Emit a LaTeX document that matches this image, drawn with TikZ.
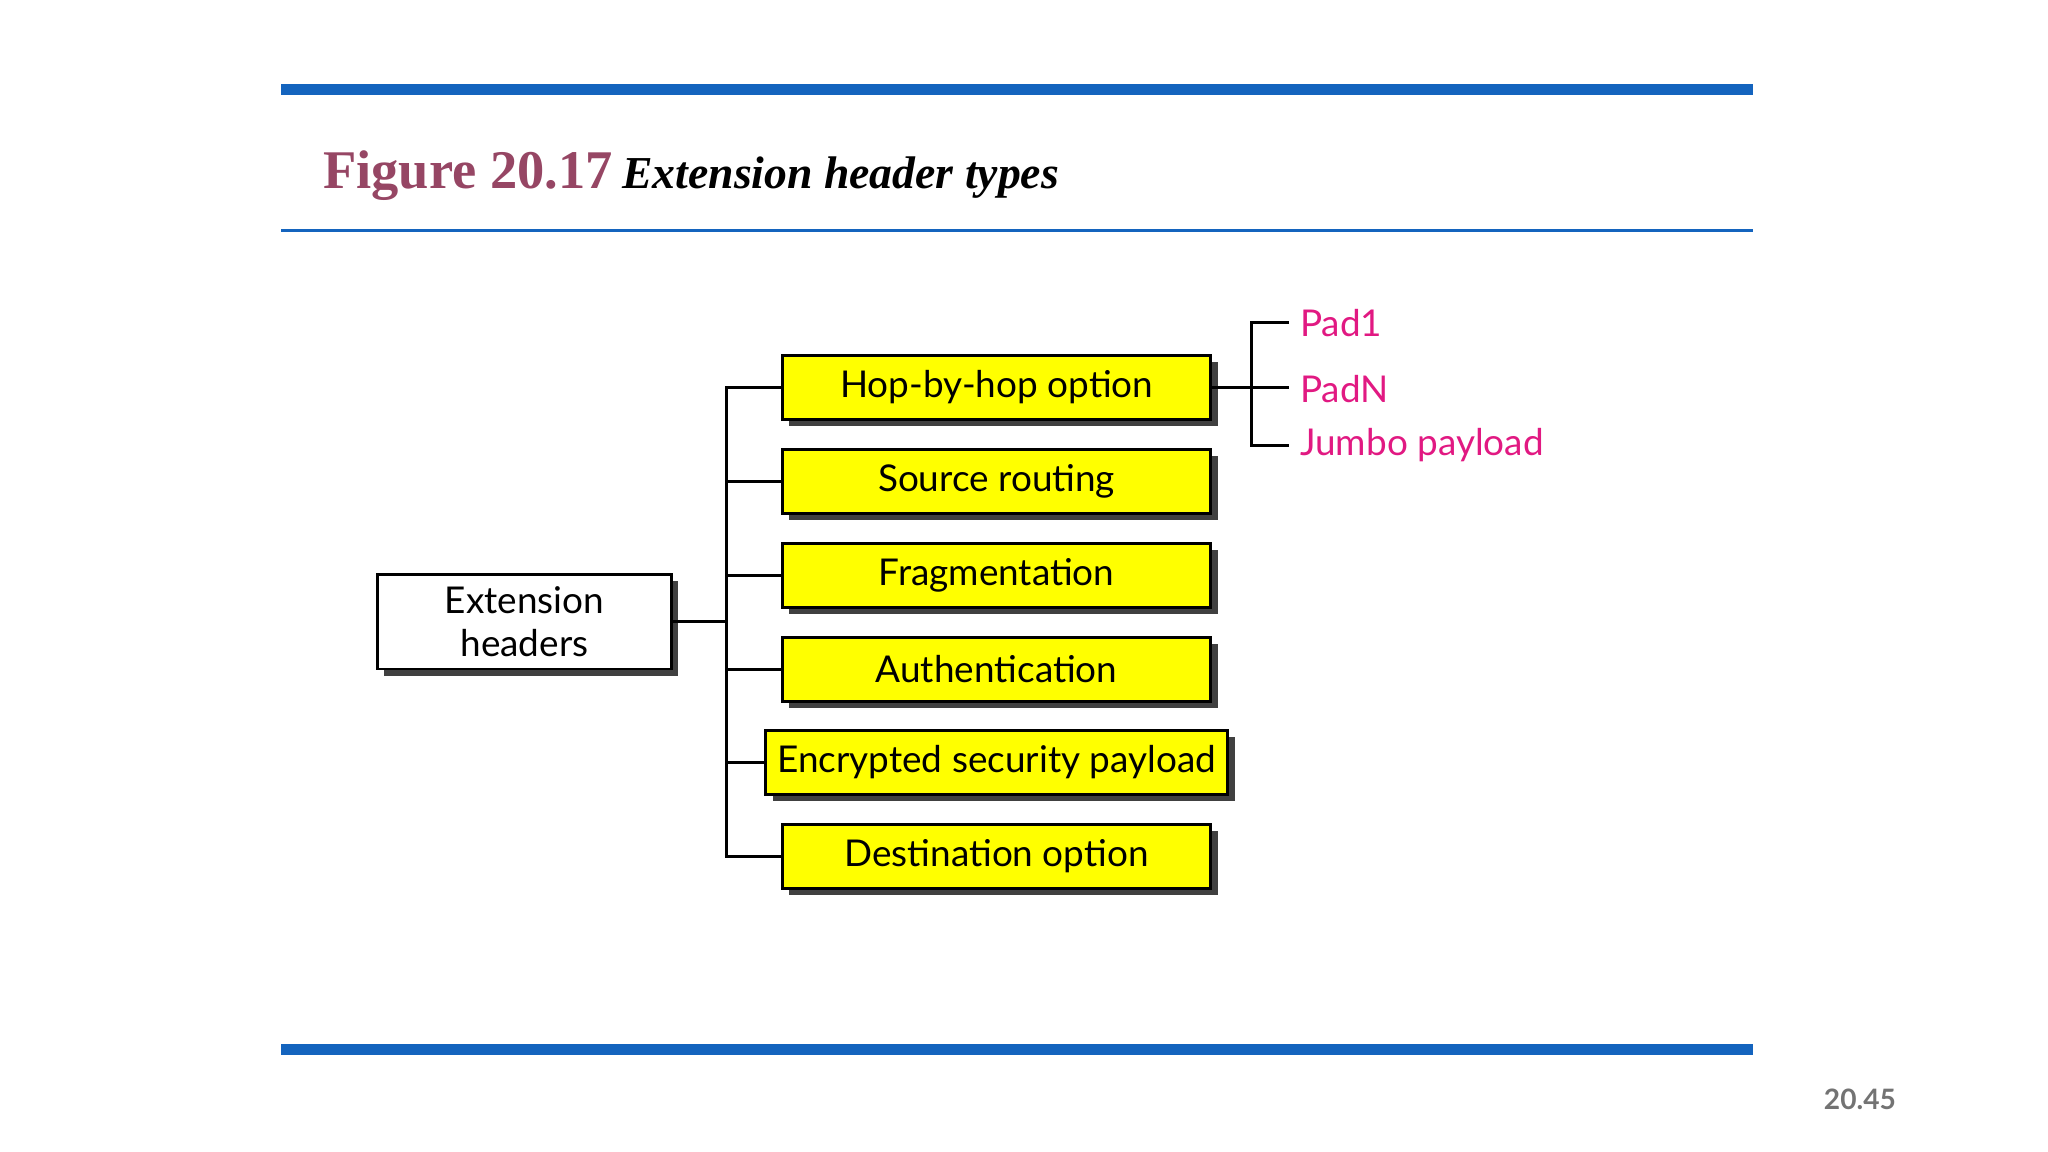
\documentclass[tikz,border=0pt]{standalone}
\usepackage{fontspec}
\setmainfont{Liberation Serif}
\setsansfont{Lato}
\definecolor{barblue}{RGB}{20,100,190}
\definecolor{titlered}{RGB}{150,70,100}
\definecolor{padpink}{RGB}{225,25,130}
\definecolor{boxyellow}{RGB}{255,255,0}
\tikzset{
  ybox/.style={draw=black, thick, fill=boxyellow, minimum width=328*0.013061cm, minimum height=49*0.013061cm, font=\sffamily\fontsize{10.5}{12}\selectfont, drop shadow={shadow xshift=0.07cm, shadow yshift=-0.07cm, fill=black!75, opacity=1}},
  wbox/.style={ybox, fill=white, minimum width=225*0.013061cm, minimum height=72*0.013061cm, align=center, font=\sffamily\fontsize{10.5}{12.5}\selectfont},
  link/.style={thick, black},
  pad/.style={text=padpink, font=\sffamily\fontsize{10.5}{12}\selectfont, anchor=west, inner sep=0pt}
}
\usetikzlibrary{shadows}
\begin{document}
\begin{tikzpicture}[x=0.013061cm, y=-0.013061cm]
\useasboundingbox (0,0) rectangle (1568,882);
\fill[barblue] (215,64) rectangle (1342,73);
\fill[barblue] (215,799) rectangle (1342,808);
\fill[barblue] (215,175) rectangle (1342,177.5);
\node[anchor=base west, inner sep=0pt, text=titlered, font=\bfseries\fontsize{15.5}{18}\selectfont] (fig) at (247,144) {Figure 20.17};
\node[anchor=base west, inner sep=0pt, font=\bfseries\itshape\fontsize{13}{16}\selectfont] (cap) at (476,144) {Extension header types};
\node[anchor=center, inner sep=0pt, text=black!55, font=\sffamily\bfseries\fontsize{8}{10}\selectfont] (pg) at (1424,842) {20.45};

\node[wbox] (ext) at (401.5,476) {Extension\\headers};
\node[ybox] (b1) at (763,296.5) {Hop-by-hop option};
\node[ybox] (b2) at (763,368.5) {Source routing};
\node[ybox] (b3) at (763,440.5) {Fragmentation};
\node[ybox] (b4) at (763,512.5) {Authentication};
\node[ybox] (b5) at (763,583.5) {Encrypted security payload};
\node[ybox] (b6) at (763,655.5) {Destination option};

\coordinate (j) at (556,476);
\draw[link] (ext.east) -- (j);
\draw[link] (b1.west) -| (556,655.5) -- (b6.west);
\foreach \b in {b2,b3,b4,b5} \draw[link] (\b.west) -- (556,0 |- \b.west);

\node[pad] (p1) at (995,247) {Pad1};
\node[pad] (p2) at (995,298) {PadN};
\node[pad] (p3) at (995,341) {Jumbo payload};
\coordinate (k) at (958,296.5);
\draw[link] (b1.east) -- (k);
\draw[link] (987,247) -| (958,341) -- (987,341);
\draw[link] (k) -- (987,296.5);
\end{tikzpicture}
\end{document}
